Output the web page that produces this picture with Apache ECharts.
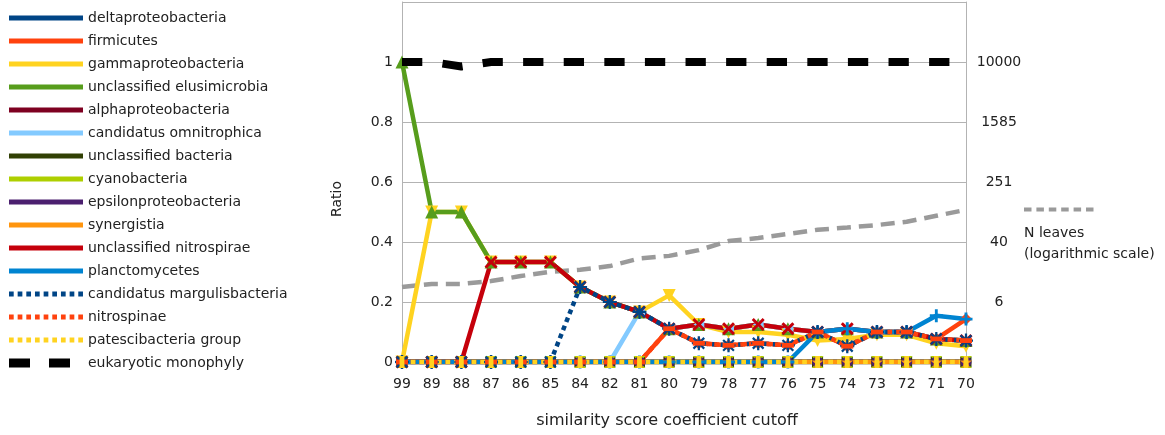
<!DOCTYPE html>
<html>
<head>
<meta charset="utf-8">
<script src="https://cdn.jsdelivr.net/npm/echarts@6/dist/echarts.min.js"></script>
<style>
  html, body { margin: 0; padding: 0; background: #ffffff; }
  #chart { width: 1165px; height: 435px; }
</style>
</head>
<body>
<div id="chart"></div>
<script>
// Similarity score cutoffs (x axis categories)
const categories = ['99', '89', '88', '87', '86', '85', '84', '82', '81', '80',
                    '79', '78', '77', '76', '75', '74', '73', '72', '71', '70'];

// Ratio per taxon at each cutoff
const deltaproteobacteria       = [0, 0, 0, 0, 0, 0, 0, 0, 0, 0, 0, 0, 0, 0, 0, 0, 0, 0, 0, 0];
const firmicutes                = [0, 0, 0, 0, 0, 0, 0, 0, 0, 0.111, 0.0625, 0.0556, 0.0625, 0.0556, 0.1, 0.0526, 0.1, 0.1, 0.0769, 0.143];
const gammaproteobacteria       = [0, 0.5, 0.5, 0.333, 0.333, 0.333, 0.25, 0.2, 0.167, 0.222, 0.125, 0.1, 0.1, 0.0909, 0.0714, 0.0769, 0.0909, 0.0909, 0.0625, 0.0526];
const unclassifiedElusimicrobia = [1, 0.5, 0.5, 0.333, 0.333, 0.333, 0.25, 0.2, 0.167, 0.111, 0.125, 0.111, 0.125, 0.111, 0.1, 0.111, 0.1, 0.1, 0.0769, 0.0714];
const alphaproteobacteria       = [0, 0, 0, 0, 0, 0, 0, 0, 0, 0, 0, 0, 0, 0, 0, 0, 0, 0, 0, 0];
const candidatusOmnitrophica    = [0, 0, 0, 0, 0, 0, 0, 0, 0.167, 0.111, 0.125, 0.111, 0.125, 0.111, 0.1, 0.111, 0.1, 0.1, 0.0769, 0.0714];
const unclassifiedBacteria      = [0, 0, 0, 0, 0, 0, 0, 0, 0, 0, 0, 0, 0, 0, 0, 0, 0, 0, 0, 0];
const cyanobacteria             = [0, 0, 0, 0, 0, 0, 0, 0, 0, 0, 0, 0, 0, 0, 0, 0, 0, 0, 0, 0];
const epsilonproteobacteria     = [0, 0, 0, 0, 0, 0, 0, 0, 0, 0, 0, 0, 0, 0, 0, 0, 0, 0, 0, 0];
const synergistia               = [0, 0, 0, 0, 0, 0, 0, 0, 0, 0, 0, 0, 0, 0, 0, 0, 0, 0, 0, 0];
const unclassifiedNitrospirae   = [0, 0, 0, 0.333, 0.333, 0.333, 0.25, 0.2, 0.167, 0.111, 0.125, 0.111, 0.125, 0.111, 0.1, 0.111, 0.1, 0.1, 0.0769, 0.0714];
const planctomycetes            = [0, 0, 0, 0, 0, 0, 0, 0, 0, 0, 0, 0, 0, 0, 0.1, 0.111, 0.1, 0.1, 0.154, 0.143];
const candidatusMargulisbacteria = [0, 0, 0, 0, 0, 0, 0.25, 0.2, 0.167, 0.111, 0.0625, 0.0556, 0.0625, 0.0556, 0.1, 0.0526, 0.1, 0.1, 0.0769, 0.0714];
const nitrospinae               = [0, 0, 0, 0, 0, 0, 0, 0, 0, 0.111, 0.0625, 0.0556, 0.0625, 0.0556, 0.1, 0.0526, 0.1, 0.1, 0.0769, 0.0714];
const patescibacteriaGroup      = [0, 0, 0, 0, 0, 0, 0, 0, 0, 0, 0, 0, 0, 0, 0, 0, 0, 0, 0, 0];
const eukaryoticMonophyly       = [1, 1, 0.985, 1, 1, 1, 1, 1, 1, 1, 1, 1, 1, 1, 1, 1, 1, 1, 1, 1];

// Number of leaves at each cutoff (secondary, logarithmic axis)
const nLeaves = [10, 11, 11, 12, 14, 16, 17, 19, 24, 26, 31, 41, 45, 51, 58, 62, 67, 74, 89, 107];

// Axis ticks
const ratioTicks = { min: 0, max: 1.2, interval: 0.2 };
const log10Ticks = { min: 0, max: 4.8, interval: 0.8 };

// Marker shapes
const SYM = {
  square: 'rect',
  diamond: 'diamond',
  triangle: 'triangle',
  arrowRight: 'path://M0,0L10,5L0,10Z',
  arrowLeft: 'path://M10,0L0,5L10,10Z',
  bowtie: 'path://M0,0L5,5L0,10Z M10,0L5,5L10,10Z',
  hourglass: 'path://M0,0L10,0L5,5Z M0,10L5,5L10,10Z',
  circle: 'circle',
  star: 'path://M5,0L6.2,3.4L9.8,3.5L6.9,5.7L7.9,9.1L5,7.1L2.1,9.1L3.1,5.7L0.2,3.5L3.8,3.4Z',
  cross: 'path://M0,1.6L1.6,0L5,3.4L8.4,0L10,1.6L6.6,5L10,8.4L8.4,10L5,6.6L1.6,10L0,8.4L3.4,5Z',
  plus: 'path://M3.9,0H6.1V3.9H10V6.1H6.1V10H3.9V6.1H0V3.9H3.9Z',
  asterisk: 'path://M4.2,0H5.8V10H4.2Z M0,4.2H10V5.8H0Z M0.6,1.7L1.7,0.6L9.4,8.3L8.3,9.4Z M8.3,0.6L9.4,1.7L1.7,9.4L0.6,8.3Z',
  hbar: 'path://M0,3H10V7H0Z',
  vbar: 'path://M3,0H7V10H3Z'
};

// Legend icons, all on a 74 x 9 box
const BOX = 'M0,0L74,0Z M0,9L74,9Z ';
const solidIcon = 'path://' + BOX + 'M0,2H74V7H0Z';
let dotted = BOX;
for (let k = 0; k < 9; k++) {
  const x0 = (k * 8.66).toFixed(2), x1 = (k * 8.66 + 4.7).toFixed(2);
  dotted += `M${x0},2L${x1},2L${x1},7L${x0},7Z `;
}
const dottedIcon = 'path://' + dotted;
const blockIcon = 'path://' + BOX + 'M0,0H21V9H0Z M40,0H61V9H40Z';
let dashed = BOX;
for (let k = 0; k < 6; k++) {
  const x0 = (k * 12.4).toFixed(2), x1 = (k * 12.4 + 7.5).toFixed(2);
  dashed += `M${x0},2.5L${x1},2.5L${x1},6.5L${x0},6.5Z `;
}
const dashedIcon = 'path://' + dashed;

const FONT = 'DejaVu Sans';
const TEXT = '#222222';
const GRID = '#b3b3b3';

function taxon(name, data, color, symbol, opts) {
  opts = opts || {};
  return {
    name: name,
    type: 'line',
    data: data,
    symbol: symbol,
    symbolSize: opts.size || 11,
    symbolRotate: opts.rotate || 0,
    symbolKeepAspect: !!opts.keep,
    showSymbol: true,
    showAllSymbol: true,
    lineStyle: { color: color, width: 4.5, type: opts.dotted ? [4.7, 4] : 'solid', cap: 'butt' },
    itemStyle: { color: color, borderWidth: 0 },
    emphasis: { disabled: true },
    z: 2
  };
}

const series = [
  {
    name: 'N leaves',
    type: 'line',
    yAxisIndex: 1,
    data: nLeaves.map(v => Math.log10(v)),
    symbol: 'none',
    lineStyle: { color: '#9a9a9a', width: 4.5, type: [14, 8], cap: 'butt' },
    itemStyle: { color: '#9a9a9a' },
    emphasis: { disabled: true },
    z: 1
  },
  taxon('deltaproteobacteria', deltaproteobacteria, '#004586', SYM.square, { size: 10 }),
  taxon('firmicutes', firmicutes, '#ff420e', SYM.diamond, { size: 12 }),
  taxon('gammaproteobacteria', gammaproteobacteria, '#ffd320', SYM.triangle, { size: 13, rotate: 180 }),
  taxon('unclassified elusimicrobia', unclassifiedElusimicrobia, '#579d1c', SYM.triangle, { size: 13 }),
  taxon('alphaproteobacteria', alphaproteobacteria, '#7e0021', SYM.arrowRight, { size: 11 }),
  taxon('candidatus omnitrophica', candidatusOmnitrophica, '#83caff', SYM.arrowLeft, { size: 11 }),
  taxon('unclassified bacteria', unclassifiedBacteria, '#314004', SYM.bowtie, { size: 11 }),
  taxon('cyanobacteria', cyanobacteria, '#aecf00', SYM.hourglass, { size: 12 }),
  taxon('epsilonproteobacteria', epsilonproteobacteria, '#4b1f6f', SYM.circle, { size: 11 }),
  taxon('synergistia', synergistia, '#ff950e', SYM.star, { size: 12 }),
  taxon('unclassified nitrospirae', unclassifiedNitrospirae, '#c5000b', SYM.cross, { size: 13 }),
  taxon('planctomycetes', planctomycetes, '#0084d1', SYM.plus, { size: 13 }),
  taxon('candidatus margulisbacteria', candidatusMargulisbacteria, '#004586', SYM.asterisk, { size: 14, dotted: true }),
  taxon('nitrospinae', nitrospinae, '#ff420e', SYM.hbar, { size: 12, dotted: true, keep: true }),
  taxon('patescibacteria group', patescibacteriaGroup, '#ffd320', SYM.vbar, { size: 12, dotted: true, keep: true }),
  {
    name: 'eukaryotic monophyly',
    type: 'line',
    data: eukaryoticMonophyly,
    symbol: 'none',
    lineStyle: { color: '#000000', width: 8, type: [20.3, 20.3], cap: 'butt' },
    itemStyle: { color: '#000000' },
    emphasis: { disabled: true },
    z: 3
  }
];

const legendNames = series.slice(1).map(s => s.name);
const dottedNames = ['candidatus margulisbacteria', 'nitrospinae', 'patescibacteria group'];

const option = {
  animation: false,
  backgroundColor: '#ffffff',
  textStyle: { fontFamily: FONT },
  grid: { left: 402, right: 199, top: 2, bottom: 73, containLabel: false },
  legend: [
    {
      orient: 'vertical',
      left: 4,
      top: 5,
      itemWidth: 74,
      itemHeight: 9,
      itemGap: 7,
      itemTextGap: 5,
      selectedMode: false,
      itemStyle: { borderWidth: 0 },
      textStyle: { fontFamily: FONT, fontSize: 14, color: TEXT, lineHeight: 16 },
      data: legendNames.map(n => ({
        name: n,
        icon: n === 'eukaryotic monophyly' ? blockIcon : (dottedNames.includes(n) ? dottedIcon : solidIcon)
      }))
    },
    {
      orient: 'vertical',
      left: 1019,
      top: 200,
      itemWidth: 74,
      itemHeight: 9,
      selectedMode: false,
      itemStyle: { borderWidth: 0 },
      formatter: () => '',
      textStyle: { fontSize: 9, lineHeight: 9 },
      data: [{ name: 'N leaves', icon: dashedIcon }]
    }
  ],
  graphic: [
    {
      type: 'text',
      left: 1024,
      top: 223,
      style: {
        text: 'N leaves\n(logarithmic scale)',
        fontFamily: FONT,
        fontSize: 14,
        lineHeight: 21,
        fill: TEXT
      }
    }
  ],
  xAxis: {
    type: 'category',
    data: categories,
    boundaryGap: false,
    name: 'similarity score coefficient cutoff',
    nameLocation: 'middle',
    nameGap: 51,
    nameTextStyle: { fontFamily: FONT, fontSize: 16, color: TEXT, padding: [0, 34, 0, 0] },
    axisLine: { show: true, lineStyle: { color: GRID, width: 1 } },
    axisTick: { show: false },
    axisLabel: { interval: 0, margin: 15, fontFamily: FONT, fontSize: 14, color: TEXT },
    splitLine: { show: false }
  },
  yAxis: [
    {
      type: 'value',
      min: ratioTicks.min,
      max: ratioTicks.max,
      interval: ratioTicks.interval,
      name: 'Ratio',
      nameLocation: 'middle',
      nameGap: 58,
      nameRotate: 90,
      nameTextStyle: { fontFamily: FONT, fontSize: 14, color: TEXT, padding: [0, 34, 0, 0] },
      axisLine: { show: true, lineStyle: { color: GRID, width: 1 } },
      axisTick: { show: false },
      axisLabel: {
        showMaxLabel: false,
        margin: 9,
        fontFamily: FONT, fontSize: 14, color: TEXT,
        formatter: v => String(Math.round(v * 10) / 10)
      },
      splitLine: { show: true, lineStyle: { color: GRID, width: 1 } }
    },
    {
      type: 'value',
      position: 'right',
      min: log10Ticks.min,
      max: log10Ticks.max,
      interval: log10Ticks.interval,
      axisLine: { show: true, lineStyle: { color: GRID, width: 1 } },
      axisTick: { show: false },
      axisLabel: {
        showMinLabel: false,
        showMaxLabel: false,
        margin: 33,
        align: 'center',
        fontFamily: FONT, fontSize: 14, color: TEXT,
        formatter: v => String(Math.round(Math.pow(10, v)))
      },
      splitLine: { show: false }
    }
  ],
  series: series
};

const chart = echarts.init(document.getElementById('chart'), null, { renderer: 'canvas' });
chart.setOption(option);
</script>
</body>
</html>
